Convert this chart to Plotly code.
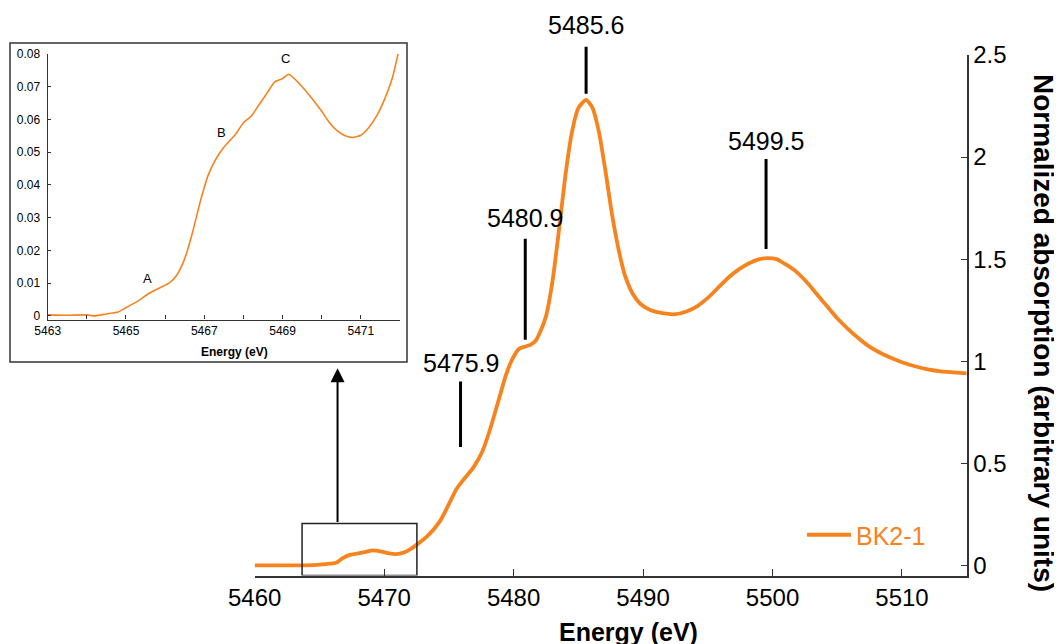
import plotly.graph_objects as go

# ---------------- data ----------------
main_energy = [5460, 5462, 5463.5, 5464.5, 5465.2, 5465.8, 5466.3, 5466.8, 5467.3, 5468.0,
               5468.6, 5469.1, 5469.7, 5470.4, 5470.9, 5471.5, 5472.0, 5472.6, 5473.3,
               5474.3, 5475.0, 5475.6, 5476.2, 5476.9, 5477.6, 5478.2, 5478.8, 5479.4,
               5479.9, 5480.4, 5480.9, 5481.3, 5481.7, 5482.1, 5482.5, 5483.0, 5483.5,
               5484.0, 5484.5, 5485.0, 5485.6, 5486.1, 5486.6, 5487.1, 5487.6, 5488.1,
               5488.6, 5489.2, 5489.8, 5490.6, 5491.5, 5492.5, 5493.4, 5494.2, 5495.0,
               5495.8, 5496.6, 5497.4, 5498.2, 5499.0, 5499.6, 5500.3, 5501.0, 5501.8,
               5502.6, 5503.4, 5504.2, 5505.0, 5505.8, 5506.6, 5507.4, 5508.2, 5509.0,
               5510.0, 5511.0, 5512.0, 5513.0, 5514.0, 5515.0]
main_absorb = [0.0, 0.0, 0.0, 0.001, 0.004, 0.008, 0.012, 0.035, 0.050, 0.058,
               0.066, 0.073, 0.068, 0.058, 0.055, 0.062, 0.078, 0.105, 0.140,
               0.215, 0.300, 0.375, 0.425, 0.480, 0.560, 0.670, 0.800, 0.930,
               1.010, 1.060, 1.072, 1.080, 1.100, 1.150, 1.220, 1.390, 1.640,
               1.910, 2.120, 2.240, 2.280, 2.240, 2.120, 1.930, 1.720, 1.550,
               1.420, 1.330, 1.280, 1.250, 1.235, 1.230, 1.245, 1.270, 1.310,
               1.360, 1.410, 1.450, 1.480, 1.500, 1.505, 1.500, 1.475, 1.440,
               1.390, 1.330, 1.270, 1.210, 1.160, 1.115, 1.075, 1.045, 1.020,
               0.995, 0.975, 0.960, 0.950, 0.945, 0.940]

inset_energy = [5463.0, 5463.5, 5464.0, 5464.2, 5464.5, 5464.8, 5465.0, 5465.3, 5465.6,
                5465.9, 5466.1, 5466.3, 5466.5, 5466.7, 5466.9, 5467.1, 5467.3, 5467.5,
                5467.8, 5468.0, 5468.2, 5468.4, 5468.6, 5468.8, 5469.0, 5469.15, 5469.3,
                5469.5, 5469.7, 5470.0, 5470.2, 5470.4, 5470.6, 5470.8, 5471.0, 5471.2,
                5471.4, 5471.6, 5471.8, 5471.95]
inset_absorb = [0.0003, 0.0002, 0.0003, 0.0000, 0.0006, 0.0012, 0.0025, 0.0045, 0.0070,
                0.0088, 0.0100, 0.0125, 0.0175, 0.0255, 0.0350, 0.0430, 0.0480, 0.0515,
                0.0555, 0.0590, 0.0610, 0.0645, 0.0680, 0.0715, 0.0725, 0.0738, 0.0725,
                0.0700, 0.0672, 0.0625, 0.0590, 0.0565, 0.0550, 0.0545, 0.0552, 0.0575,
                0.0610, 0.0660, 0.0725, 0.0800]

peak_positions = [5475.9, 5480.9, 5485.6, 5499.5]
peak_labels = ["5475.9", "5480.9", "5485.6", "5499.5"]
peak_line_low = [0.58, 1.105, 2.31, 1.55]
peak_line_high = [0.90, 1.60, 2.54, 1.99]
peak_label_y = [0.99, 1.70, 2.645, 2.08]

inset_feature_x = [5465.56, 5467.45, 5469.07]
inset_feature_y = [0.0114, 0.0561, 0.0787]
inset_feature_labels = ["A", "B", "C"]

main_xticks = [5460, 5470, 5480, 5490, 5500, 5510]
main_yticks = [0, 0.5, 1, 1.5, 2, 2.5]
main_ytick_text = ["0", "0.5", "1", "1.5", "2", "2.5"]
inset_xticks = [5463, 5464, 5465, 5466, 5467, 5468, 5469, 5470, 5471]
inset_xtick_text = ["5463", "", "5465", "", "5467", "", "5469", "", "5471"]
inset_yticks = [0, 0.01, 0.02, 0.03, 0.04, 0.05, 0.06, 0.07, 0.08]
inset_ytick_text = ["0", "0.01", "0.02", "0.03", "0.04", "0.05", "0.06", "0.07", "0.08"]

series_name = "BK2-1"

# ---------------- style / layout helpers ----------------
W, H = 1062, 644
OFF = 8  # page offset of the figure inside the browser page
ORANGE = "#F7831E"
AX = "#333333"
FONT = "Liberation Sans, Arial, Helvetica, sans-serif"


def px_x(p):
    return (p - OFF) / W


def px_y(p):
    return 1 - (p - OFF) / H


Y_DOM = [px_y(575.5), px_y(55)]
Y_RANGE = [-0.05, 2.5]


def y_to_paper(v):
    return Y_DOM[0] + (v - Y_RANGE[0]) / (Y_RANGE[1] - Y_RANGE[0]) * (Y_DOM[1] - Y_DOM[0])


fig = go.Figure()

fig.add_trace(go.Scatter(
    x=main_energy, y=main_absorb, mode="lines", name=series_name,
    line=dict(color=ORANGE, width=3.8, shape="spline", smoothing=0.6),
    xaxis="x", yaxis="y", showlegend=True))

fig.add_trace(go.Scatter(
    x=inset_energy, y=inset_absorb, mode="lines", name=series_name + " (inset)",
    line=dict(color=ORANGE, width=1.6, shape="spline", smoothing=0.5),
    xaxis="x2", yaxis="y2", showlegend=False))

shapes = []
annotations = []

# peak marker lines and labels
for xv, lo, hi, ly, lab in zip(peak_positions, peak_line_low, peak_line_high, peak_label_y, peak_labels):
    shapes.append(dict(type="line", xref="x", yref="paper", x0=xv, x1=xv,
                       y0=y_to_paper(lo), y1=y_to_paper(hi),
                       line=dict(color="black", width=3)))
    annotations.append(dict(x=xv, y=y_to_paper(ly), xref="x", yref="paper", text=lab,
                            showarrow=False,
                            font=dict(family=FONT, size=25, color="black"),
                            xanchor="center", yanchor="middle"))

# zoom box on main plot
shapes.append(dict(type="rect", xref="x", yref="y", x0=5463.66, x1=5472.53, y0=-0.05, y1=0.205,
                   line=dict(color="#222222", width=1.5), layer="above"))

# arrow from box to inset
annotations.append(dict(x=5466.4, y=0.965, ax=5466.4, ay=0.205, xref="x", yref="y",
                        axref="x", ayref="y", text="", showarrow=True, arrowhead=2,
                        arrowsize=1.4, arrowwidth=2, arrowcolor="black"))

# inset frame
shapes.append(dict(type="rect", xref="paper", yref="paper",
                   x0=px_x(10), x1=px_x(407), y0=px_y(362), y1=px_y(43),
                   line=dict(color="#333333", width=1.5), fillcolor="rgba(0,0,0,0)", layer="below"))

# inset feature labels
for xv, yv, lab in zip(inset_feature_x, inset_feature_y, inset_feature_labels):
    annotations.append(dict(x=xv, y=yv, xref="x2", yref="y2", text=lab, showarrow=False,
                            font=dict(family=FONT, size=13, color="black"),
                            xanchor="center", yanchor="middle"))

# axis titles
annotations.append(dict(x=px_x(628), y=px_y(632), xref="paper", yref="paper",
                        text="<b>Energy (eV)</b>", showarrow=False,
                        font=dict(family=FONT, size=25, color="black"),
                        xanchor="center", yanchor="middle"))
annotations.append(dict(x=px_x(1044), y=px_y(333), xref="paper", yref="paper",
                        text="<b>Normalized absorption (arbitrary units)</b>", showarrow=False,
                        textangle=90, font=dict(family=FONT, size=28, color="black"),
                        xanchor="center", yanchor="middle"))
annotations.append(dict(x=px_x(234), y=px_y(352), xref="paper", yref="paper",
                        text="<b>Energy (eV)</b>", showarrow=False,
                        font=dict(family=FONT, size=12, color="black"),
                        xanchor="center", yanchor="middle"))

fig.update_layout(
    width=W, height=H,
    margin=dict(l=0, r=0, t=0, b=0, autoexpand=False),
    paper_bgcolor="white", plot_bgcolor="rgba(0,0,0,0)",
    font=dict(family=FONT, color="black"),
    shapes=shapes, annotations=annotations,
    showlegend=True,
    legend=dict(x=px_x(802), y=px_y(535), xanchor="left", yanchor="middle",
                bgcolor="rgba(0,0,0,0)", font=dict(family=FONT, size=25, color=ORANGE),
                itemwidth=44),
    xaxis=dict(domain=[px_x(254.7), px_x(966.7)], range=[5460, 5515], anchor="y",
               automargin=False,
               showline=True, linecolor=AX, linewidth=1.5, ticks="inside", ticklen=7,
               tickwidth=1.2, tickcolor=AX, tickvals=main_xticks,
               tickfont=dict(family=FONT, size=24, color="black"),
               showgrid=False, zeroline=False, mirror=False),
    yaxis=dict(domain=Y_DOM, range=Y_RANGE, anchor="x", side="right",
               automargin=False,
               showline=True, linecolor=AX, linewidth=1.5, ticks="inside", ticklen=6,
               tickwidth=1.2, tickcolor=AX, tickvals=main_yticks, ticktext=main_ytick_text,
               tickfont=dict(family=FONT, size=24, color="black"),
               showgrid=False, zeroline=False),
    xaxis2=dict(domain=[px_x(47.7), px_x(400)], range=[5463, 5472], anchor="y2",
                automargin=False,
                showline=True, linecolor=AX, linewidth=1.2, ticks="inside", ticklen=4,
                tickwidth=1, tickcolor=AX, tickvals=inset_xticks, ticktext=inset_xtick_text,
                tickfont=dict(family=FONT, size=12, color="black"),
                showgrid=False, zeroline=False),
    yaxis2=dict(domain=[px_y(319.5), px_y(54)], range=[-0.0011, 0.08], anchor="x2",
                automargin=False, ticklabelstandoff=4,
                showline=True, linecolor=AX, linewidth=1.2, ticks="inside", ticklen=3,
                tickwidth=1, tickcolor=AX, tickvals=inset_yticks, ticktext=inset_ytick_text,
                tickfont=dict(family=FONT, size=12, color="black"),
                showgrid=False, zeroline=False),
)

fig.write_html("out.html")
